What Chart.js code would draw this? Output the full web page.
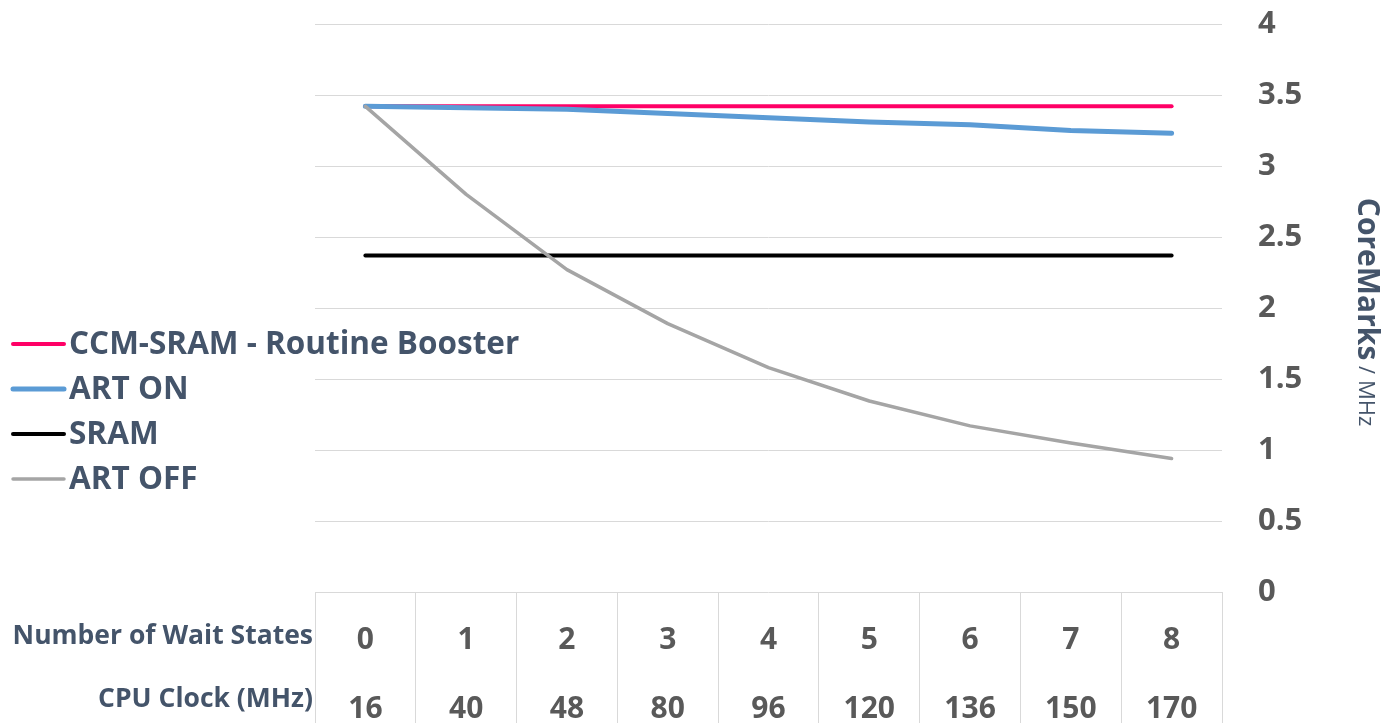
<!DOCTYPE html>
<html>
<head>
<meta charset="utf-8">
<script src="https://cdn.jsdelivr.net/npm/chart.js@4"></script>
<style>
  html, body { margin: 0; padding: 0; background: #fff; }
  #wrap { width: 1389px; height: 723px; }
</style>
</head>
<body>
<div id="wrap"><canvas id="myChart" width="1389" height="723"></canvas></div>
<script>
// categories: wait states and matching CPU clock
var waitStates = ['0', '1', '2', '3', '4', '5', '6', '7', '8'];
var cpuClock = ['16', '40', '48', '80', '96', '120', '136', '150', '170'];
var rowLabels = ['Number of Wait States', 'CPU Clock (MHz)'];

// CoreMarks / MHz
var ccmSram = [3.42, 3.42, 3.42, 3.42, 3.42, 3.42, 3.42, 3.42, 3.42];
var artOn = [3.42, 3.41, 3.40, 3.37, 3.34, 3.31, 3.29, 3.25, 3.23];
var sram = [2.37, 2.37, 2.37, 2.37, 2.37, 2.37, 2.37, 2.37, 2.37];
var artOff = [3.42, 2.80, 2.27, 1.89, 1.58, 1.345, 1.17, 1.05, 0.94];

var yTicks = [0, 0.5, 1, 1.5, 2, 2.5, 3, 3.5, 4];

var textColor = '#44546A';
var tickColor = '#595959';
var gridColor = '#D9D9D9';
var fontFamily = '"Open Sans", Lato, sans-serif';

var labels = waitStates.map(function (w, i) { return [w, cpuClock[i]]; });

function noPad(scale) {
  scale.paddingTop = 0;
  scale.paddingBottom = 0;
  scale.paddingLeft = 0;
  scale.paddingRight = 0;
}

var extras = {
  id: 'extras',
  afterDraw: function (chart) {
    var c = chart.ctx;
    var area = chart.chartArea;
    c.save();

    // legend on the left
    c.textAlign = 'left';
    c.textBaseline = 'middle';
    c.font = 'bold 31.5px ' + fontFamily;
    chart.data.datasets.forEach(function (ds, k) {
      var y = 344 + k * 45;
      c.strokeStyle = ds.borderColor;
      c.lineWidth = ds.borderWidth;
      c.lineCap = 'round';
      c.beginPath();
      c.moveTo(13, y);
      c.lineTo(64, y);
      c.stroke();
      c.fillStyle = textColor;
      c.fillText(ds.label, 69, y + 1);
    });

    // row labels of the category table
    c.textAlign = 'right';
    c.font = 'bold 26.5px ' + fontFamily;
    c.fillStyle = textColor;
    c.fillText(rowLabels[0], area.left - 2, 636);
    c.fillText(rowLabels[1], area.left - 2, 699);

    // y axis title, rotated
    c.translate(1367, area.top + (area.bottom - area.top) / 2 + 4);
    c.rotate(Math.PI / 2);
    c.textBaseline = 'middle';
    c.textAlign = 'left';
    c.font = 'bold 30px ' + fontFamily;
    var t1 = 'CoreMarks';
    var w1 = c.measureText(t1).width;
    c.font = '22px ' + fontFamily;
    var t2 = ' / MHz';
    var w2 = c.measureText(t2).width;
    var x0 = -(w1 + w2) / 2;
    c.font = 'bold 30px ' + fontFamily;
    c.fillText(t1, x0, 0);
    c.font = '22px ' + fontFamily;
    c.fillText(t2, x0 + w1, 2);
    c.restore();
  }
};

var ctx = document.getElementById('myChart').getContext('2d');
var myChart = new Chart(ctx, {
  type: 'line',
  data: {
    labels: labels,
    datasets: [{
      label: 'CCM-SRAM - Routine Booster',
      data: ccmSram,
      borderColor: '#FF0066',
      borderWidth: 4,
      order: 3
    }, {
      label: 'ART ON',
      data: artOn,
      borderColor: '#5B9BD5',
      borderWidth: 5,
      order: 2
    }, {
      label: 'SRAM',
      data: sram,
      borderColor: '#000000',
      borderWidth: 4,
      order: 1
    }, {
      label: 'ART OFF',
      data: artOff,
      borderColor: '#A5A5A5',
      borderWidth: 3.5,
      order: 0
    }]
  },
  options: {
    responsive: false,
    animation: false,
    devicePixelRatio: 1,
    layout: { padding: { left: 315, top: 24, right: 0, bottom: 0 } },
    elements: {
      point: { radius: 0, hoverRadius: 0 },
      line: { tension: 0, fill: false, borderCapStyle: 'round', borderJoinStyle: 'round' }
    },
    plugins: {
      legend: { display: false },
      tooltip: { enabled: false },
      title: { display: false }
    },
    scales: {
      x: {
        offset: true,
        grid: {
          offset: true,
          drawOnChartArea: false,
          drawTicks: true,
          tickLength: 131,
          color: gridColor,
          lineWidth: 1
        },
        border: { display: false },
        ticks: {
          color: tickColor,
          font: { family: fontFamily, size: 30, weight: 'bold', lineHeight: 2.3 },
          padding: -117,
          maxRotation: 0,
          autoSkip: false
        },
        afterFit: function (scale) { scale.height = 131; noPad(scale); }
      },
      y: {
        position: 'right',
        min: 0,
        max: 4,
        afterBuildTicks: function (scale) {
          scale.ticks = yTicks.map(function (v) { return { value: v }; });
        },
        grid: { color: gridColor, lineWidth: 1, drawTicks: false },
        border: { display: false },
        ticks: {
          color: tickColor,
          font: { family: fontFamily, size: 31, weight: 'bold' },
          padding: 36,
          callback: function (v) { return String(v); }
        },
        afterFit: function (scale) { scale.width = 167; noPad(scale); }
      }
    }
  },
  plugins: [extras]
});
</script>
</body>
</html>
